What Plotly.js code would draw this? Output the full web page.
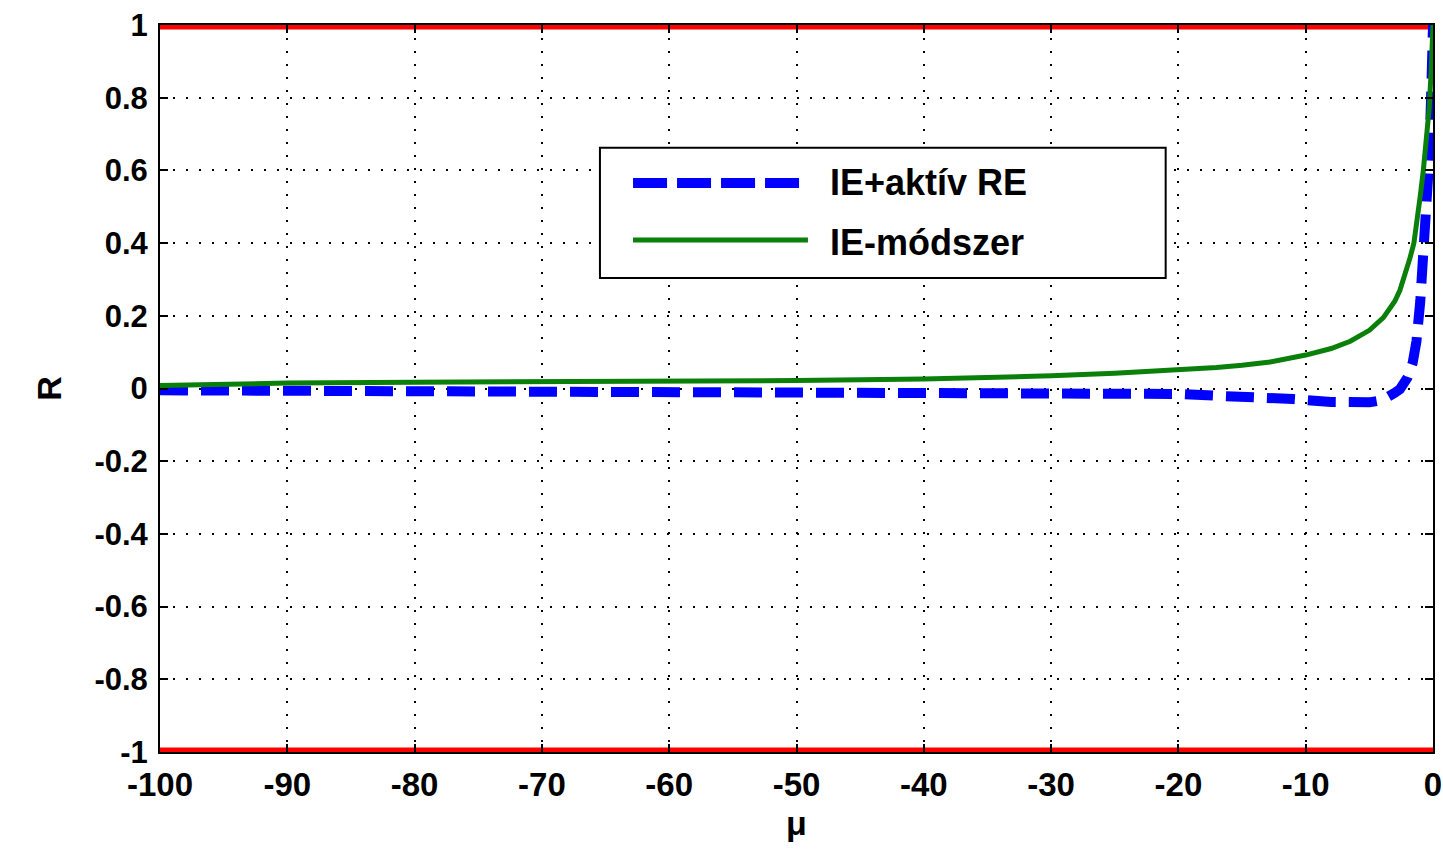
<!DOCTYPE html>
<html>
<head>
<meta charset="utf-8">
<script src="https://cdn.plot.ly/plotly-3.0.1.min.js"></script>
<style>html,body{margin:0;padding:0;background:#fff;}#chart{width:1443px;height:850px;}</style>
</head>
<body>
<div id="chart"></div>
<script>
// ---- data ----
const seriesNames = ["IE+aktív RE", "IE-módszer"];

const muBlue = [-100, -90, -80, -75, -70, -60, -50, -40, -35, -30, -25, -20, -17, -14, -11, -8, -6, -5, -4, -3.5, -3, -2.6, -2.3, -2, -1.6, -1.3, -1, -0.7, -0.5, -0.3, -0.15, 0];
const rBlue  = [-0.005, -0.006, -0.006, -0.007, -0.009, -0.01, -0.011, -0.01, -0.009, -0.01, -0.012, -0.015, -0.02, -0.023, -0.029, -0.037, -0.04, -0.038, -0.032, -0.025, -0.012, -0.002, 0.012, 0.03, 0.07, 0.13, 0.24, 0.38, 0.48, 0.63, 0.8, 1.0];

const muGreen = [-100, -95, -90, -80, -70, -60, -50, -40, -35, -30, -25, -20, -17, -15, -12.8, -10, -8, -6.5, -5, -3.9, -3, -2.6, -2, -1.8, -1.5, -1.28, -1, -0.76, -0.5, -0.3, -0.15, 0];
const rGreen  = [0.008, 0.012, 0.015, 0.017, 0.018, 0.02, 0.022, 0.026, 0.029, 0.035, 0.042, 0.05, 0.058, 0.064, 0.073, 0.092, 0.11, 0.13, 0.16, 0.195, 0.24, 0.27, 0.33, 0.36, 0.4, 0.45, 0.53, 0.6, 0.68, 0.77, 0.87, 1.0];

// stability bounds |R| = 1
const boundMu = [-100, 0];
const boundUpper = [1, 1];
const boundLower = [-1, -1];

const xTickVals = [-100, -90, -80, -70, -60, -50, -40, -30, -20, -10, 0];
const xTickText = ["-100", "-90", "-80", "-70", "-60", "-50", "-40", "-30", "-20", "-10", "0"];
const yTickVals = [-1, -0.8, -0.6, -0.4, -0.2, 0, 0.2, 0.4, 0.6, 0.8, 1];
const yTickText = ["-1", "-0.8", "-0.6", "-0.4", "-0.2", "0", "0.2", "0.4", "0.6", "0.8", "1"];
const xTitle = "μ";
const yTitle = "R";

// ---- styling ----
const FONT = "Liberation Sans, Arial, sans-serif";
const blueColor = "#0000ff";
const greenColor = "#0a800a";
const blueDash = "28px,13px";

const traces = [
  {x: boundMu, y: boundUpper, mode: "lines", line: {color: "#ff0000", width: 9}, showlegend: false, hoverinfo: "skip"},
  {x: boundMu, y: boundLower, mode: "lines", line: {color: "#ff0000", width: 9}, showlegend: false, hoverinfo: "skip"},
  {x: muBlue, y: rBlue, name: seriesNames[0], mode: "lines", line: {color: blueColor, width: 10, dash: blueDash}, showlegend: false},
  {x: muGreen, y: rGreen, name: seriesNames[1], mode: "lines", line: {color: greenColor, width: 5}, showlegend: false}
];

// custom legend (paper coordinates) to reproduce the long line samples
const lg = {x0: 0.3456, x1: 0.790, y0: 0.652, y1: 0.831, lx0: 0.3716, lx1: 0.509, tx: 0.5247, row1: 0.7827, row2: 0.7043};

const layout = {
  width: 1443, height: 850,
  margin: {l: 160, r: 10, t: 25, b: 98},
  paper_bgcolor: "#ffffff", plot_bgcolor: "#ffffff",
  font: {family: FONT, color: "#000", weight: "bold"},
  showlegend: false,
  xaxis: {
    range: [-100, 0], tickmode: "array", tickvals: xTickVals, ticktext: xTickText,
    ticks: "inside", ticklen: 8, tickwidth: 2, tickcolor: "#000",
    showline: true, linecolor: "#000", linewidth: 2, mirror: "ticks",
    showgrid: true, gridcolor: "#000", gridwidth: 2, griddash: "2px,11px",
    zeroline: false,
    tickfont: {family: FONT, size: 33, weight: "bold", color: "#000"},
    ticklabelstandoff: 2,
    title: {text: xTitle, font: {family: FONT, size: 34, weight: "bold", color: "#000"}, standoff: 10}
  },
  yaxis: {
    range: [-1, 1], tickmode: "array", tickvals: yTickVals, ticktext: yTickText,
    ticks: "inside", ticklen: 8, tickwidth: 2, tickcolor: "#000",
    showline: true, linecolor: "#000", linewidth: 2, mirror: "ticks",
    showgrid: true, gridcolor: "#000", gridwidth: 2, griddash: "2px,11px",
    zeroline: false,
    tickfont: {family: FONT, size: 31, weight: "bold", color: "#000"},
    ticklabelstandoff: 4,
    title: {text: yTitle, font: {family: FONT, size: 34, weight: "bold", color: "#000"}, standoff: 22}
  },
  shapes: [
    {type: "rect", xref: "paper", yref: "paper", x0: lg.x0, x1: lg.x1, y0: lg.y0, y1: lg.y1,
     line: {color: "#000", width: 2}, fillcolor: "#ffffff", layer: "above"},
    {type: "line", xref: "paper", yref: "paper", x0: lg.lx0, x1: lg.lx1, y0: lg.row1, y1: lg.row1,
     line: {color: blueColor, width: 10, dash: "34px,10px"}, layer: "above"},
    {type: "line", xref: "paper", yref: "paper", x0: lg.lx0, x1: lg.lx1, y0: lg.row2, y1: lg.row2,
     line: {color: greenColor, width: 5}, layer: "above"}
  ],
  annotations: [
    {xref: "paper", yref: "paper", x: lg.tx, y: lg.row1, xanchor: "left", yanchor: "middle", showarrow: false,
     text: seriesNames[0], font: {family: FONT, size: 36, weight: "bold", color: "#000"}},
    {xref: "paper", yref: "paper", x: lg.tx, y: lg.row2 - 0.004, xanchor: "left", yanchor: "middle", showarrow: false,
     text: seriesNames[1], font: {family: FONT, size: 36, weight: "bold", color: "#000"}}
  ]
};

Plotly.newPlot("chart", traces, layout, {displayModeBar: false, staticPlot: true});
</script>
</body>
</html>
